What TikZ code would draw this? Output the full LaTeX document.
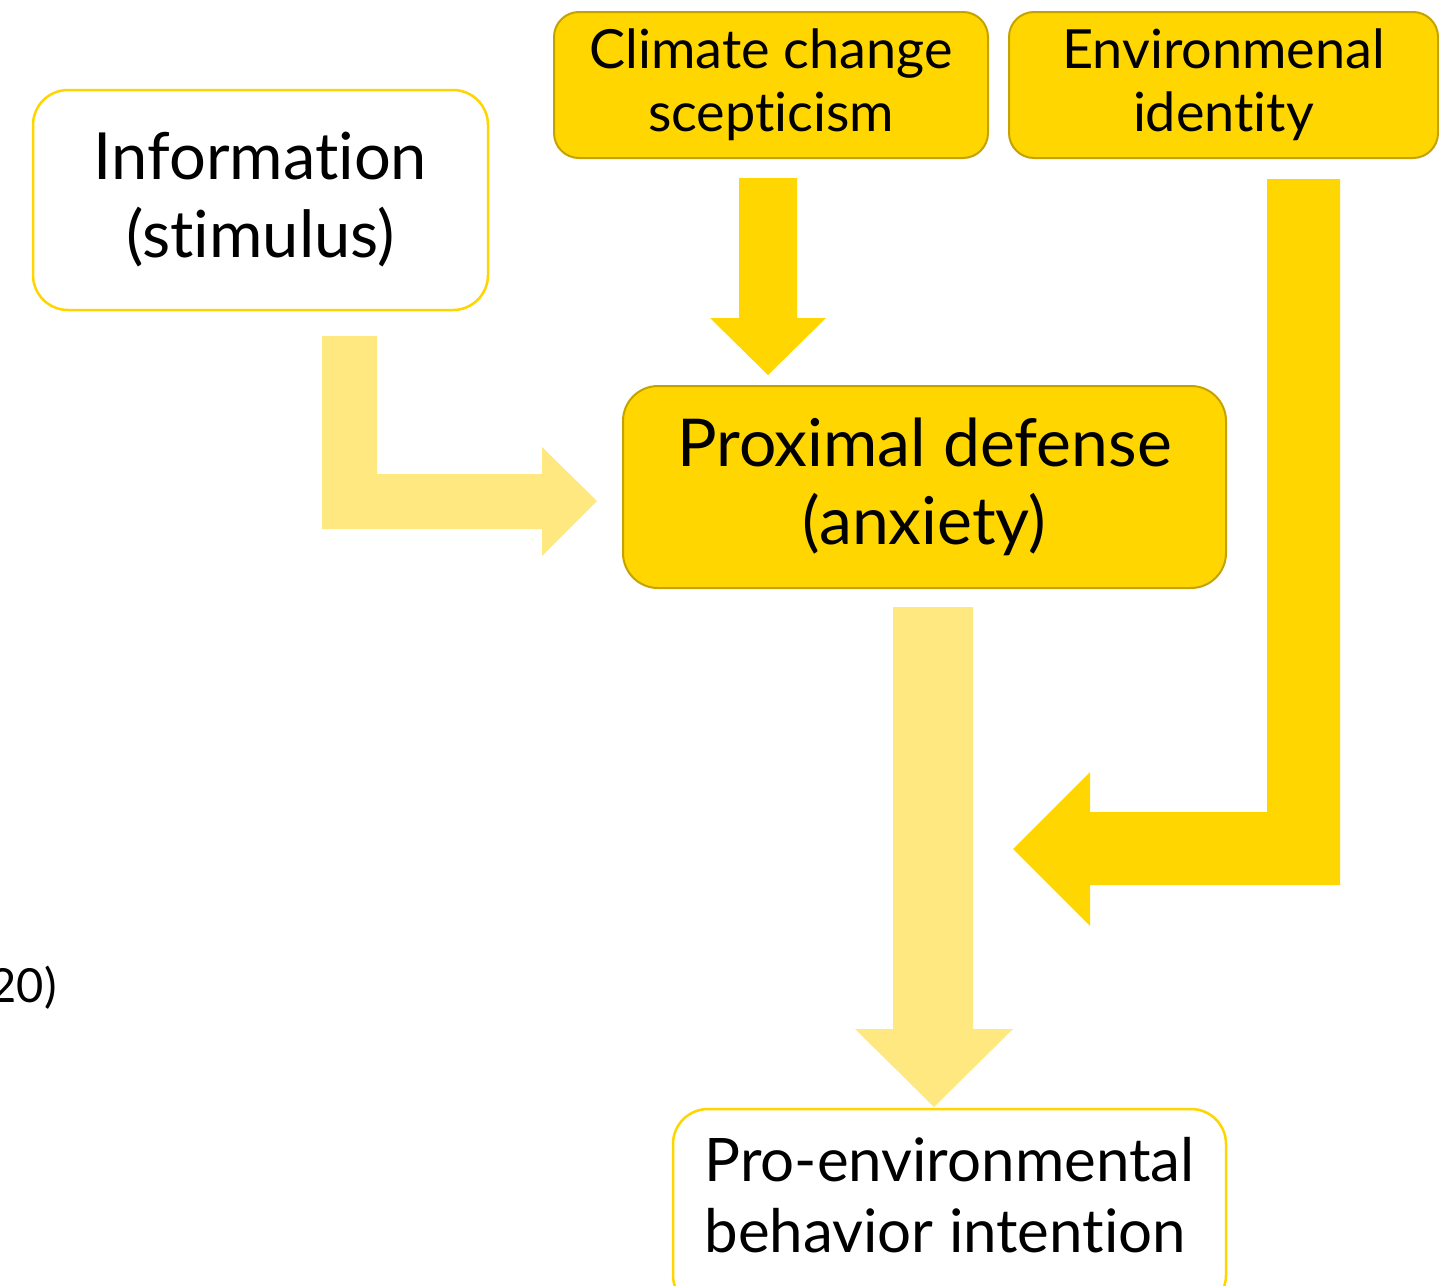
\documentclass[tikz,border=0pt]{standalone}
\usepackage{fontspec}
\usetikzlibrary{backgrounds}
\setmainfont{Lato}[Ligatures={NoCommon}]
\definecolor{gold}{HTML}{FFD600}
\definecolor{goldline}{HTML}{C4A300}
\definecolor{lightgold}{HTML}{FFE880}
\definecolor{brightline}{HTML}{FFD500}
\begin{document}
\begin{tikzpicture}[x=1pt,y=-1pt,
  whitebox/.style={draw=brightline, line width=2.5pt, fill=white, rounded corners=35pt, inner sep=0pt},
  goldbox/.style={draw=goldline, line width=2pt, fill=gold, rounded corners=25pt, inner sep=0pt},
  goldarrow/.style={fill=gold, draw=none},
  lightarrow/.style={fill=lightgold, draw=none}]
\useasboundingbox (0,0) rectangle (1439,1285);
\clip (0,0) rectangle (1439,1285);

% arrows
\path[lightarrow] (322,336) -- (377,336) -- (377,474) -- (542,474) -- (542,447) -- (597,501) -- (542,556) -- (542,529) -- (322,529) -- cycle;
\path[goldarrow] (739,178) -- (797,178) -- (797,318) -- (826,318) -- (768,375) -- (710,318) -- (739,318) -- cycle;
\path[lightarrow] (893,607) -- (973,607) -- (973,1029) -- (1013,1029) -- (934,1107) -- (855,1029) -- (893,1029) -- cycle;
\path[goldarrow] (1267,179) -- (1340,179) -- (1340,885) -- (1090,885) -- (1090,926) -- (1013,849) -- (1090,772) -- (1090,812) -- (1267,812) -- cycle;

% boxes
\node[whitebox, minimum width=455pt, minimum height=220pt, align=center,
      font=\fontsize{65}{78}\selectfont] (info) at (260.5,200) {Information\\(stimulus)};
\node[goldbox, minimum width=434pt, minimum height=146pt, align=center,
      font=\fontsize{54}{63}\selectfont] (clim) at (771,85) {Climate change\\scepticism};
\node[goldbox, minimum width=429pt, minimum height=146pt, align=center,
      font=\fontsize{54}{63}\selectfont] (envid) at (1223.5,85) {Environmenal\\identity};
\node[goldbox, rounded corners=35pt, minimum width=603pt, minimum height=202pt, align=center,
      font=\fontsize{66}{78}\selectfont] (prox) at (924.5,487) {Proximal defense\\(anxiety)};
\node[inner sep=0pt, align=left, font=\fontsize{60}{71}\selectfont] (proenv) at (949.5,1195) {Pro-environmental\\behavior intention};
\begin{scope}[on background layer]
  \draw[whitebox] (673,1109) rectangle (1226,1310);
\end{scope}
\node[anchor=base east, inner sep=0pt, font=\fontsize{47}{55}\selectfont] (cite) at (57,1002) {20)};
\end{tikzpicture}
\end{document}
